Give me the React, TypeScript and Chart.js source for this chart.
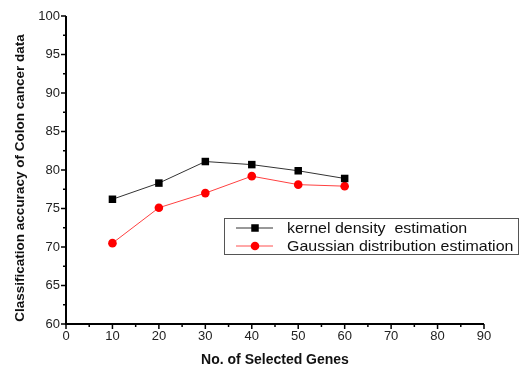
import React, { useEffect, useRef } from "react";
import { Chart, registerables } from "chart.js";

Chart.register(...registerables);

const genes = [10, 20, 30, 40, 50, 60];
const kernelAcc = [76.2, 78.3, 81.1, 80.7, 79.9, 78.9];
const gaussAcc = [70.5, 75.1, 77.0, 79.2, 78.1, 77.9];
const seriesNames = ["kernel density  estimation", "Gaussian distribution estimation"];
const xTitle = "No. of Selected Genes";
const yTitle = "Classification accuracy of Colon cancer data";

const FONT = "'Liberation Sans', Arial, sans-serif";

const axesPlugin = {
  id: "axesPlugin",
  afterDraw(chart: any) {
    const { ctx, chartArea, scales } = chart;
    const { left, right, top, bottom } = chartArea;
    ctx.save();
    ctx.strokeStyle = "#000";
    ctx.lineWidth = 2;
    ctx.beginPath();
    ctx.moveTo(left, top);
    ctx.lineTo(left, bottom);
    ctx.lineTo(right, bottom);
    ctx.stroke();
    ctx.lineWidth = 1.5;
    const xs = scales.x;
    for (let v = 0; v <= 90; v += 5) {
      const px = xs.getPixelForValue(v);
      const len = v % 10 === 0 ? 5 : 3;
      ctx.beginPath();
      ctx.moveTo(px, bottom);
      ctx.lineTo(px, bottom + len);
      ctx.stroke();
    }
    const ys = scales.y;
    for (let v = 60; v <= 100; v += 2.5) {
      const py = ys.getPixelForValue(v);
      const len = v % 5 === 0 ? 5 : 3;
      ctx.beginPath();
      ctx.moveTo(left, py);
      ctx.lineTo(left - len, py);
      ctx.stroke();
    }
    // y-axis title
    ctx.translate(20, 178);
    ctx.rotate(-Math.PI / 2);
    ctx.fillStyle = "#111";
    ctx.font = `bold 13.5px ${FONT}`;
    ctx.textAlign = "center";
    ctx.textBaseline = "middle";
    ctx.fillText(yTitle, 0, 0);
    ctx.restore();
  },
};

const legendPlugin = {
  id: "legendPlugin",
  afterDraw(chart: any) {
    const { ctx } = chart;
    const bx = 224, by = 218, bw = 294, bh = 36;
    ctx.save();
    ctx.strokeStyle = "#555";
    ctx.lineWidth = 1;
    ctx.strokeRect(bx + 0.5, by + 0.5, bw, bh);
    const rows = [
      { y: by + 10, color: "#000", line: "#333", style: "rect" },
      { y: by + 28, color: "#ff0000", line: "#ff5050", style: "circle" },
    ];
    rows.forEach((r, i) => {
      ctx.strokeStyle = r.line;
      ctx.lineWidth = 1;
      ctx.beginPath();
      ctx.moveTo(bx + 12, r.y);
      ctx.lineTo(bx + 49, r.y);
      ctx.stroke();
      ctx.fillStyle = r.color;
      if (r.style === "rect") {
        ctx.fillRect(bx + 31 - 3.75, r.y - 3.75, 7.5, 7.5);
      } else {
        ctx.beginPath();
        ctx.arc(bx + 31, r.y, 4.3, 0, Math.PI * 2);
        ctx.fill();
      }
      ctx.save();
      ctx.fillStyle = "#111";
      ctx.font = `15px ${FONT}`;
      ctx.textBaseline = "middle";
      ctx.textAlign = "left";
      ctx.translate(bx + 63, r.y + 1);
      ctx.scale(1.065, 1);
      ctx.fillText(seriesNames[i], 0, 0);
      ctx.restore();
    });
    ctx.restore();
  },
};

export default function App() {
  const ref = useRef<HTMLCanvasElement | null>(null);
  useEffect(() => {
    if (!ref.current) return;
    const chart = new Chart(ref.current, {
      type: "line",
      data: {
        datasets: [
          {
            label: seriesNames[0],
            data: genes.map((g, i) => ({ x: g, y: kernelAcc[i] })),
            borderColor: "#333",
            borderWidth: 1,
            pointStyle: "rect",
            pointRadius: 5.3,
            pointBackgroundColor: "#000",
            pointBorderWidth: 0,
          },
          {
            label: seriesNames[1],
            data: genes.map((g, i) => ({ x: g, y: gaussAcc[i] })),
            borderColor: "#ff4040",
            borderWidth: 1,
            pointStyle: "circle",
            pointRadius: 4.3,
            pointBackgroundColor: "#ff0000",
            pointBorderWidth: 0,
          },
        ],
      },
      options: {
        responsive: false,
        animation: false,
        layout: { padding: { top: 16, right: 38, left: 0, bottom: 0 } },
        plugins: { legend: { display: false }, tooltip: { enabled: false } },
        scales: {
          x: {
            type: "linear",
            min: 0,
            max: 90,
            afterFit: (s: any) => { s.height = 43; },
            ticks: { stepSize: 10, padding: 5, color: "#222", font: { family: FONT, size: 13 }, maxRotation: 0 },
            grid: { display: false, drawTicks: false },
            border: { display: false },
            title: { display: true, text: xTitle, color: "#111", font: { family: FONT, size: 14, weight: "bold", lineHeight: 1 }, padding: { top: 0, bottom: 0 } },
          },
          y: {
            type: "linear",
            min: 60,
            max: 100,
            afterFit: (s: any) => { s.width = 66; },
            ticks: { stepSize: 5, padding: 6, color: "#222", font: { family: FONT, size: 13 } },
            grid: { display: false, drawTicks: false },
            border: { display: false },
            title: { display: false },
          },
        },
      },
      plugins: [axesPlugin, legendPlugin],
    });
    return () => chart.destroy();
  }, []);
  return (
    <div style={{ position: "fixed", left: 0, top: 0, width: 522, height: 367, background: "#fff" }}>
      <canvas ref={ref} width={522} height={367} />
    </div>
  );
}
